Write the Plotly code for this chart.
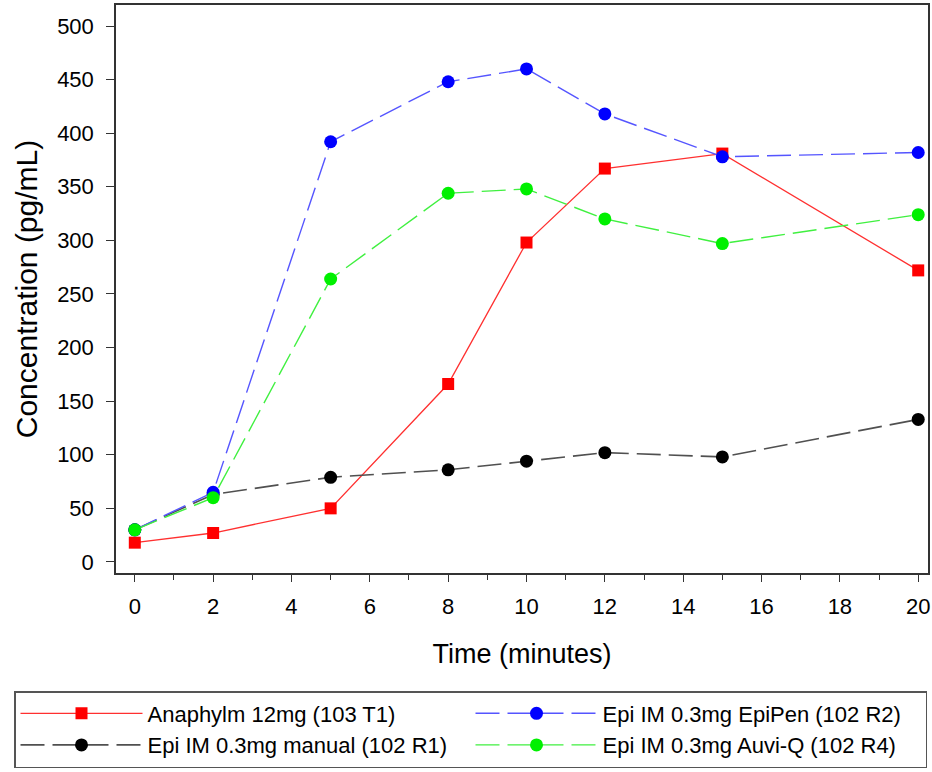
import plotly.graph_objects as go

time_min = [0, 2, 5, 8, 10, 12, 15, 20]

anaphylm = [18, 27, 50, 166, 298, 367, 381, 272]
epipen = [30, 65, 392, 448, 460, 418, 378, 382]
manual = [30, 63, 79, 86, 94, 102, 98, 133]
auviq = [30, 60, 264, 344, 348, 320, 297, 324]

names = ["Anaphylm 12mg (103 T1)", "Epi IM 0.3mg EpiPen (102 R2)",
         "Epi IM 0.3mg manual (102 R1)", "Epi IM 0.3mg Auvi-Q (102 R4)"]

y_ticks = [0, 50, 100, 150, 200, 250, 300, 350, 400, 450, 500]
x_ticks = [0, 2, 4, 6, 8, 10, 12, 14, 16, 18, 20]

FONT = "Arial, Liberation Sans, sans-serif"

fig = go.Figure()

# draw order: red, black, blue, green ; legend order via legendrank
fig.add_trace(go.Scatter(
    x=time_min, y=anaphylm, name=names[0], mode="lines+markers", legendrank=1,
    line=dict(color="#FF3030", width=1.3),
    marker=dict(symbol="square", size=12, color="#FF0000")))
fig.add_trace(go.Scatter(
    x=time_min, y=manual, name=names[2], mode="lines+markers", legendrank=3,
    line=dict(color="#505050", width=1.6, dash="24px,8px"),
    marker=dict(symbol="circle", size=13, color="#000000")))
fig.add_trace(go.Scatter(
    x=time_min, y=epipen, name=names[1], mode="lines+markers", legendrank=2,
    line=dict(color="#5555FF", width=1.4, dash="24px,8px"),
    marker=dict(symbol="circle", size=13, color="#0000FF")))
fig.add_trace(go.Scatter(
    x=time_min, y=auviq, name=names[3], mode="lines+markers", legendrank=4,
    line=dict(color="#40F040", width=1.4, dash="24px,8px"),
    marker=dict(symbol="circle", size=13, color="#00F000")))

fig.update_layout(
    width=932, height=772,
    margin=dict(l=116, r=4, t=5, b=199, autoexpand=False),
    paper_bgcolor="white", plot_bgcolor="white",
    font=dict(family=FONT, color="black"),
    showlegend=True,
    legend=dict(
        orientation="h", xref="paper", yref="paper",
        x=(14 - 116) / 812, y=(573 - 691) / 568, xanchor="left", yanchor="top",
        entrywidth=318, entrywidthmode="pixels",
        bordercolor="#555555", borderwidth=1.5, bgcolor="white",
        font=dict(size=22, family=FONT), itemwidth=122,
        tracegroupgap=0,
    ),
    xaxis=dict(
        range=[-0.48, 20.25], tickvals=x_ticks, ticktext=[str(v) for v in x_ticks],
        showgrid=False, zeroline=False,
        showline=True, linecolor="#333333", linewidth=1.5, mirror=True,
        ticks="outside", ticklen=7, tickwidth=1.2, tickcolor="#333333",
        minor=dict(dtick=1, tick0=0, ticks="outside", ticklen=5, tickcolor="#333333", tickwidth=1.2),
        tickfont=dict(size=22), ticklabelstandoff=6, ticklabeloverflow="allow",
        title=dict(text="Time (minutes)", font=dict(size=27), standoff=26),
    ),
    yaxis=dict(
        range=[-10.3, 519.6], tickvals=y_ticks, ticktext=[str(v) for v in y_ticks],
        showgrid=False, zeroline=False,
        showline=True, linecolor="#333333", linewidth=1.5, mirror=True,
        ticks="outside", ticklen=8, tickwidth=1.2, tickcolor="#333333",
        tickfont=dict(size=22), ticklabelstandoff=8,
        title=dict(text="Concentration (pg/mL)", font=dict(size=30), standoff=11),
    ),
)

fig.write_html("out.html")
